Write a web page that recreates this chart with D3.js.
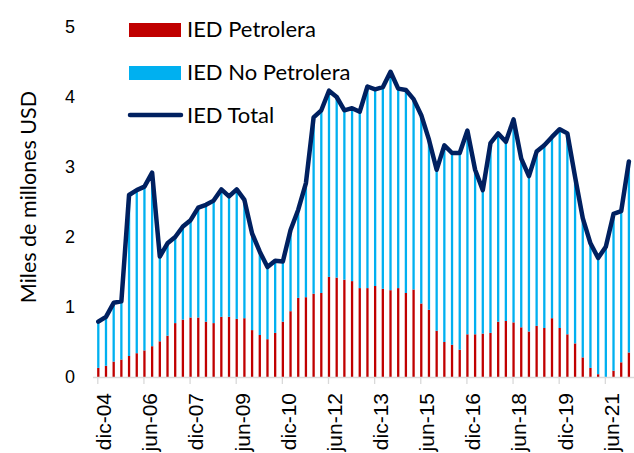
<!DOCTYPE html>
<html>
<head>
<meta charset="utf-8">
<script src="https://cdn.jsdelivr.net/npm/d3@7"></script>
<style>
  html, body { margin: 0; padding: 0; background: #ffffff; }
  svg { display: block; font-family: Lato, "Open Sans", sans-serif; }
</style>
</head>
<body>
<svg id="chart" width="634" height="453"></svg>
<script>
// ---- Data ----
const categories = [
  "dic-04",
  "mar-05","jun-05","sep-05","dic-05",
  "mar-06","jun-06","sep-06","dic-06",
  "mar-07","jun-07","sep-07","dic-07",
  "mar-08","jun-08","sep-08","dic-08",
  "mar-09","jun-09","sep-09","dic-09",
  "mar-10","jun-10","sep-10","dic-10",
  "mar-11","jun-11","sep-11","dic-11",
  "mar-12","jun-12","sep-12","dic-12",
  "mar-13","jun-13","sep-13","dic-13",
  "mar-14","jun-14","sep-14","dic-14",
  "mar-15","jun-15","sep-15","dic-15",
  "mar-16","jun-16","sep-16","dic-16",
  "mar-17","jun-17","sep-17","dic-17",
  "mar-18","jun-18","sep-18","dic-18",
  "mar-19","jun-19","sep-19","dic-19",
  "mar-20","jun-20","sep-20","dic-20",
  "mar-21","jun-21","sep-21","dic-21",
  "mar-22"
];

const tickLabels = ["dic-04","jun-06","dic-07","jun-09","dic-10","jun-12",
                    "dic-13","jun-15","dic-16","jun-18","dic-19","jun-21"];

const yTicks = [0, 1, 2, 3, 4, 5];

const petrolera = [
  0.13, 0.16, 0.22, 0.25, 0.30, 0.34, 0.38, 0.44, 0.51, 0.59, 0.77, 0.82, 0.85, 0.85,
  0.79, 0.77, 0.86, 0.86, 0.83, 0.84, 0.67, 0.60, 0.54, 0.63, 0.79, 0.94, 1.13, 1.14,
  1.19, 1.20, 1.43, 1.42, 1.39, 1.37, 1.27, 1.27, 1.30, 1.26, 1.24, 1.27, 1.20, 1.25,
  1.05, 0.96, 0.66, 0.50, 0.46, 0.39, 0.61, 0.61, 0.62, 0.63, 0.79, 0.80, 0.78, 0.71,
  0.65, 0.73, 0.70, 0.84, 0.70, 0.61, 0.48, 0.28, 0.13, 0.04, 0.00, 0.09, 0.21, 0.35
];

const noPetrolera = [
  0.66, 0.70, 0.84, 0.83, 2.30, 2.33, 2.34, 2.48, 1.21, 1.32, 1.23, 1.33, 1.39, 1.57,
  1.67, 1.75, 1.82, 1.72, 1.85, 1.69, 1.38, 1.19, 1.03, 1.03, 0.86, 1.16, 1.26, 1.63,
  2.52, 2.61, 2.66, 2.58, 2.42, 2.47, 2.52, 2.88, 2.81, 2.88, 3.12, 2.85, 2.90, 2.72,
  2.69, 2.43, 2.30, 2.81, 2.74, 2.81, 2.91, 2.35, 2.05, 2.71, 2.69, 2.56, 2.90, 2.41,
  2.22, 2.49, 2.61, 2.59, 2.84, 2.87, 2.38, 1.99, 1.78, 1.66, 1.86, 2.24, 2.16, 2.73
];

const total = [
  0.79, 0.86, 1.06, 1.08, 2.60, 2.67, 2.72, 2.92, 1.72, 1.91, 2.00, 2.15, 2.24, 2.42,
  2.46, 2.52, 2.68, 2.58, 2.68, 2.53, 2.05, 1.79, 1.57, 1.66, 1.65, 2.10, 2.39, 2.77,
  3.71, 3.81, 4.09, 4.00, 3.81, 3.84, 3.79, 4.15, 4.11, 4.14, 4.36, 4.12, 4.10, 3.97,
  3.74, 3.39, 2.96, 3.31, 3.20, 3.20, 3.52, 2.96, 2.67, 3.34, 3.48, 3.36, 3.68, 3.12,
  2.87, 3.22, 3.31, 3.43, 3.54, 3.48, 2.86, 2.27, 1.91, 1.70, 1.86, 2.33, 2.37, 3.08
];

const seriesNames = ["IED Petrolera", "IED No Petrolera", "IED Total"];
const yTitle = "Miles de millones USD";

// ---- Layout / styles ----
const COL_RED = "#C00000", COL_BLUE = "#00B0F0", COL_NAVY = "#002060";
const svg = d3.select("#chart");

const x = d3.scalePoint().domain(categories).range([98.3, 628.9]);
const y = d3.scaleLinear().domain([0, 5]).range([377, 27]);
const barW = 2.3;

const rows = categories.map((c, i) => ({ c, p: petrolera[i], n: noPetrolera[i], t: total[i] }));

// bars: petrolera
svg.append("g").selectAll("rect").data(rows).join("rect")
  .attr("x", d => x(d.c) - barW / 2)
  .attr("width", barW)
  .attr("y", d => y(d.p))
  .attr("height", d => y(0) - y(d.p))
  .attr("fill", COL_RED);

// bars: no petrolera (stacked)
svg.append("g").selectAll("rect").data(rows).join("rect")
  .attr("x", d => x(d.c) - barW / 2)
  .attr("width", barW)
  .attr("y", d => y(d.p + d.n))
  .attr("height", d => y(d.p) - y(d.p + d.n))
  .attr("fill", COL_BLUE);

// x axis
const xAxis = svg.append("g")
  .attr("transform", "translate(0,377)")
  .call(d3.axisBottom(x).tickValues(tickLabels).tickSize(7).tickSizeOuter(0));
xAxis.select(".domain").attr("stroke", "#d9d9d9").attr("stroke-width", 1.3)
  .attr("d", "M93,0.5H634");
xAxis.selectAll(".tick line").attr("stroke", "#d9d9d9").attr("stroke-width", 1.3)
  .attr("transform", "translate(-1,0)");
xAxis.selectAll(".tick text")
  .attr("fill", "#000")
  .style("font-size", "21px")
  .attr("text-anchor", "end")
  .attr("transform", "translate(5,16) rotate(-90)")
  .attr("x", 0).attr("y", 0).attr("dy", "0.35em");

// y axis
const yAxis = svg.append("g")
  .attr("transform", "translate(78,0)")
  .call(d3.axisLeft(y).tickValues(yTicks).tickSize(0).tickPadding(3).tickFormat(d3.format("d")));
yAxis.select(".domain").remove();
yAxis.selectAll(".tick text").attr("fill", "#000").style("font-size", "18px");

// y title
svg.append("text")
  .attr("transform", "translate(28,197) rotate(-90)")
  .attr("text-anchor", "middle")
  .attr("dy", "0.35em")
  .style("font-size", "21.5px")
  .attr("fill", "#000")
  .text(yTitle);

// total line
const line = d3.line().x(d => x(d.c)).y(d => y(d.t));
svg.append("path").datum(rows)
  .attr("d", line)
  .attr("fill", "none")
  .attr("stroke", COL_NAVY)
  .attr("stroke-width", 4.5)
  .attr("stroke-linejoin", "round")
  .attr("stroke-linecap", "round");

// legend
const lg = svg.append("g");
lg.append("rect").attr("x", 129).attr("y", 23).attr("width", 52).attr("height", 14).attr("fill", COL_RED);
lg.append("rect").attr("x", 129).attr("y", 66).attr("width", 52).attr("height", 14).attr("fill", COL_BLUE);
lg.append("line").attr("x1", 130).attr("x2", 181).attr("y1", 115).attr("y2", 115)
  .attr("stroke", COL_NAVY).attr("stroke-width", 4.5).attr("stroke-linecap", "round");
const legendBaselines = [36.7, 80, 123.3];
seriesNames.forEach((s, i) => {
  lg.append("text").attr("x", 187).attr("y", legendBaselines[i])
    .style("font-size", "22px").attr("fill", "#000").text(s);
});
</script>
</body>
</html>
